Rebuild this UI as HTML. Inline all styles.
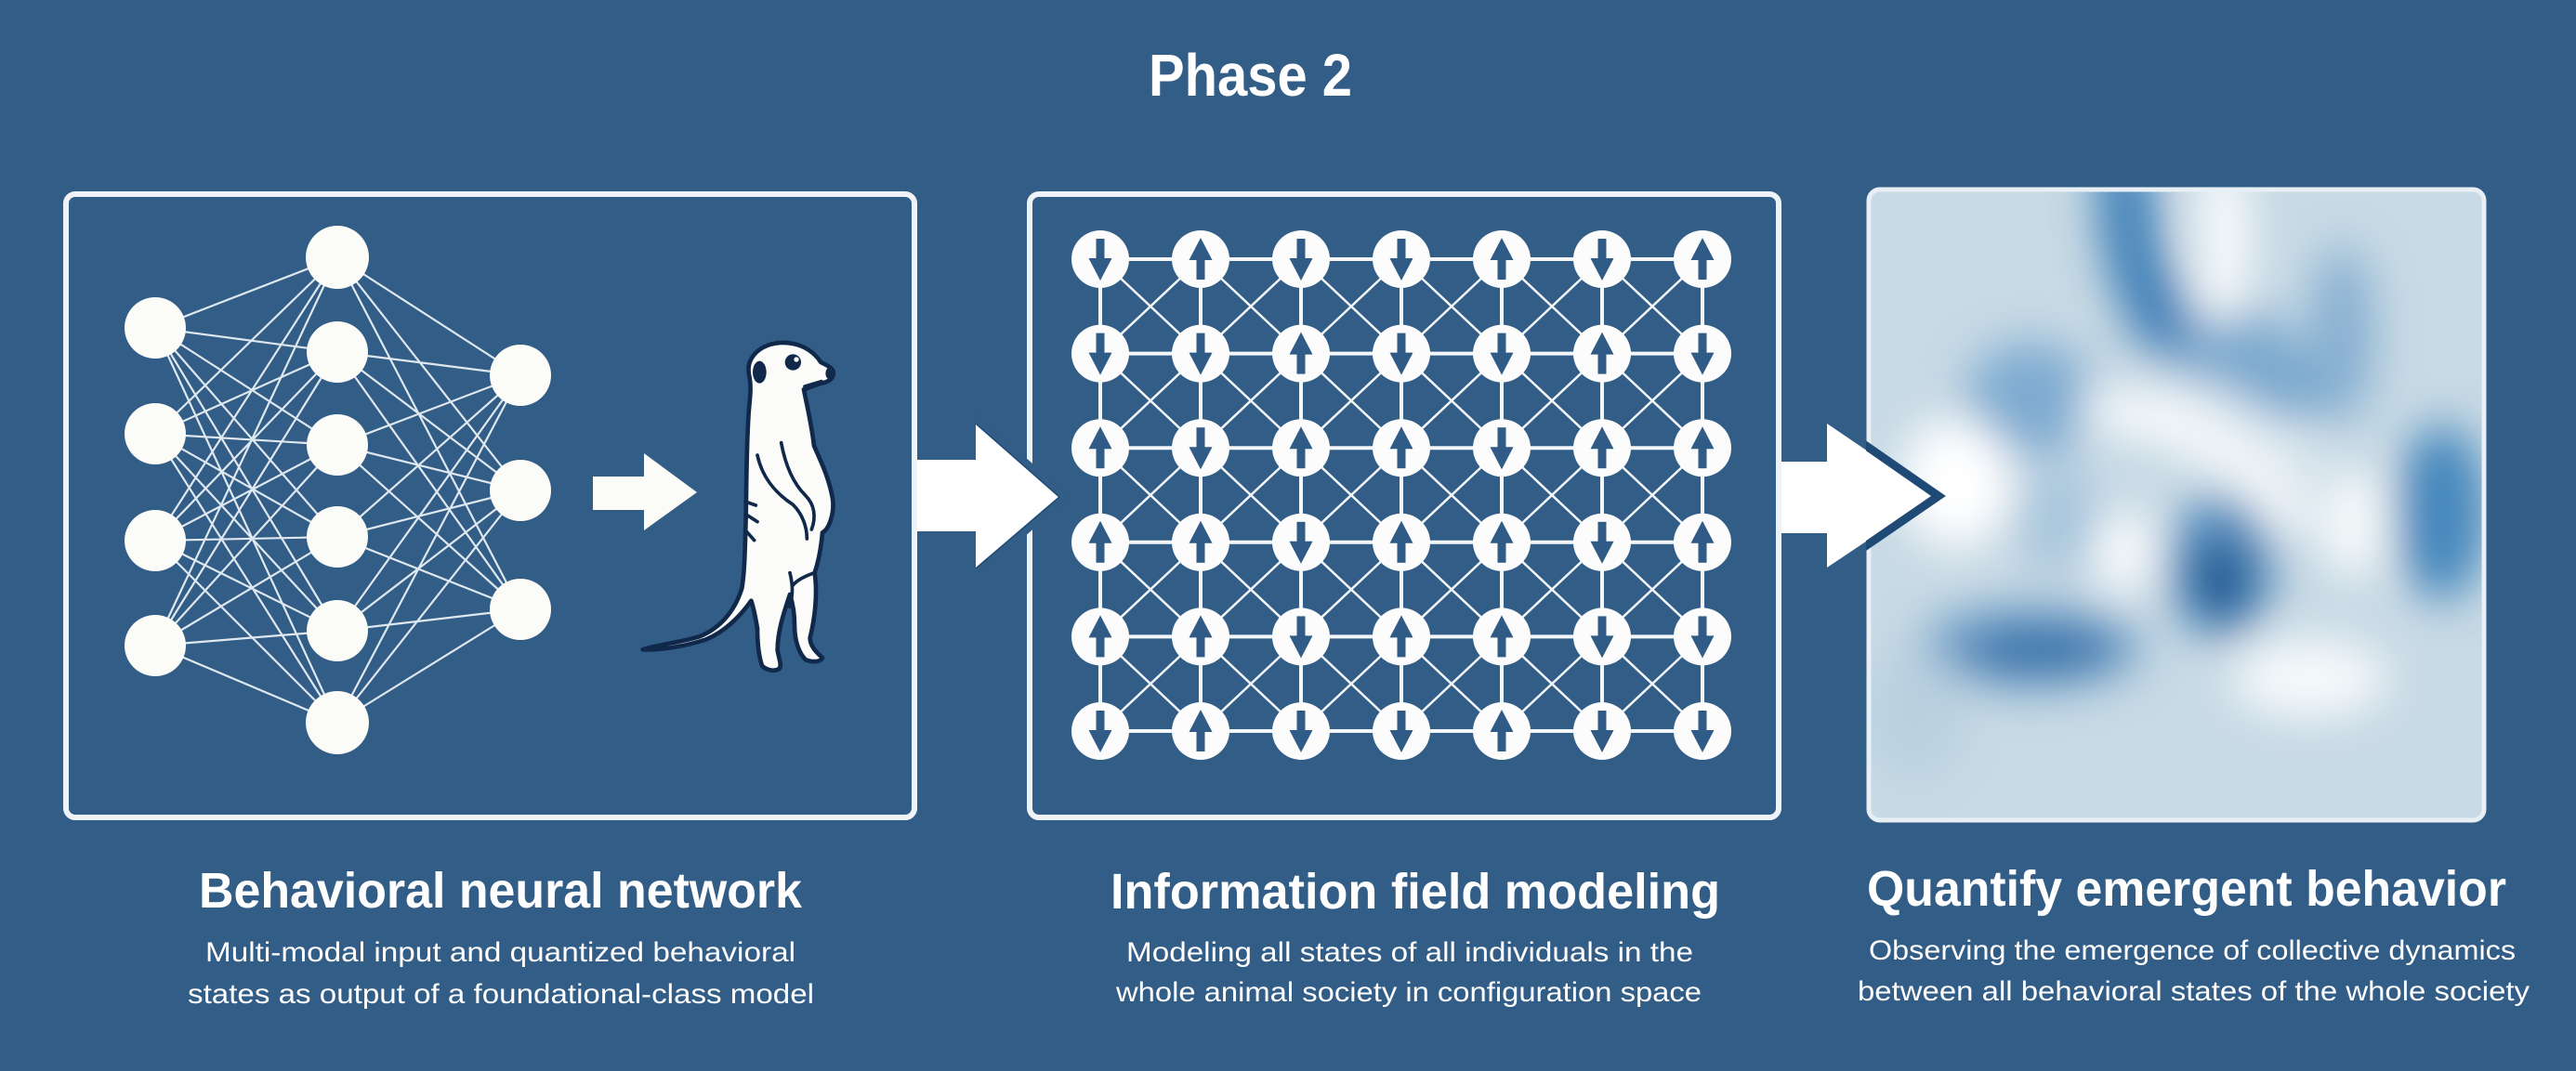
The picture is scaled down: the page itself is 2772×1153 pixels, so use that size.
<!DOCTYPE html>
<html>
<head>
<meta charset="utf-8">
<style>
html,body{margin:0;padding:0;background:#325d87;}
svg{display:block;}
</style>
</head>
<body>
<svg width="2772" height="1153" viewBox="0 0 2772 1153" xmlns="http://www.w3.org/2000/svg" xmlns:xlink="http://www.w3.org/1999/xlink">
<defs>
  <g id="U"><circle r="31" fill="#fbfcfb"/><rect x="-4.5" y="-2" width="9" height="24" fill="#2f5b86"/><polygon points="0,-23 -12.5,1 12.5,1" fill="#2f5b86"/></g>
  <g id="D"><circle r="31" fill="#fbfcfb"/><rect x="-4.5" y="-22" width="9" height="24" fill="#2f5b86"/><polygon points="0,23 -12.5,-1 12.5,-1" fill="#2f5b86"/></g>
  <clipPath id="fieldclip"><rect x="2011" y="204" width="662" height="679" rx="12"/></clipPath>
  <clipPath id="p3area"><rect x="2008" y="150" width="700" height="800"/></clipPath>
  <filter id="blur" filterUnits="userSpaceOnUse" x="1950" y="150" width="800" height="800">
    <feGaussianBlur stdDeviation="24"/>
  </filter>
</defs>

<rect x="0" y="0" width="2772" height="1153" fill="#325d87"/>

<!-- Title -->
<text x="1236" y="103" font-family="Liberation Sans, sans-serif" font-size="64" font-weight="700" fill="#ffffff" textLength="219" lengthAdjust="spacingAndGlyphs">Phase 2</text>

<!-- Panel 3: field image -->
<g clip-path="url(#fieldclip)">
  <rect x="2011" y="204" width="662" height="679" fill="#c8dae5"/>
  <g filter="url(#blur)" stroke-linecap="round" fill="none">
    <ellipse cx="2185" cy="430" rx="70" ry="62" fill="#7eaad0"/>
    <ellipse cx="2215" cy="560" rx="45" ry="55" fill="#a7c5dc"/>
    <ellipse cx="2395" cy="380" rx="120" ry="55" fill="#7aa8cd" transform="rotate(28 2395 380)"/>
    <path d="M2286,195 C2290,260 2298,310 2330,345" stroke="#3a7db5" stroke-width="60"/>
    <ellipse cx="2520" cy="360" rx="35" ry="95" fill="#86afd0"/>
    <path d="M2392,200 C2396,255 2396,295 2386,325" stroke="#ffffff" stroke-width="46"/>
    <ellipse cx="2390" cy="610" rx="58" ry="78" fill="#5a91c0"/>
    <ellipse cx="2390" cy="625" rx="32" ry="44" fill="#145590"/>
    <ellipse cx="2628" cy="552" rx="48" ry="95" fill="#4486bb"/>
    <ellipse cx="2185" cy="697" rx="120" ry="46" fill="#6e9fc7"/>
    <ellipse cx="2195" cy="700" rx="80" ry="22" fill="#2768a3"/>
    <path d="M2262,440 C2340,450 2420,490 2465,555" stroke="#ffffff" stroke-width="40"/>
    <path d="M2322,414 C2382,419 2442,455 2485,500" stroke="#f7fafc" stroke-width="18"/>
    <ellipse cx="2105" cy="520" rx="60" ry="70" fill="#ffffff"/>
    <ellipse cx="2287" cy="595" rx="30" ry="45" fill="#ffffff"/>
    <ellipse cx="2533" cy="563" rx="32" ry="60" fill="#fbfdfd"/>
    <ellipse cx="2485" cy="730" rx="85" ry="42" fill="#f6f9fb"/>
    <ellipse cx="2060" cy="770" rx="55" ry="70" fill="#b9d0df"/>
  </g>
</g>
<rect x="2011" y="204" width="662" height="679" rx="12" fill="none" stroke="#e8f0f5" stroke-width="5"/>

<!-- Arrow 2 -->
<polygon points="1912,497 1966,497 1966,456 2081,534 1966,611 1966,574 1912,574" fill="#ffffff"/>
<polyline clip-path="url(#p3area)" points="1968,452 2086,534 1968,615" fill="none" stroke="#1f4a76" stroke-width="9" stroke-linejoin="miter"/>

<!-- Panel 2: grid -->
<g stroke="#f4f7f9" fill="none" stroke-linecap="round">
  <path stroke-width="2.5" d="M1184 279L1724 787M1292 279L1832 787M1400 279L1832 685.4M1508 279L1832 583.8M1616 279L1832 482.2M1724 279L1832 380.6M1184 380.6L1616 787M1184 482.2L1508 787M1184 583.8L1400 787M1184 685.4L1292 787
  M1832 279L1292 787M1724 279L1184 787M1616 279L1184 685.4M1508 279L1184 583.8M1400 279L1184 482.2M1292 279L1184 380.6M1832 380.6L1400 787M1832 482.2L1508 787M1832 583.8L1616 787M1832 685.4L1724 787"/>
  <path stroke-width="4" d="M1184 279H1832M1184 380.6H1832M1184 482.2H1832M1184 583.8H1832M1184 685.4H1832M1184 787H1832
  M1184 279V787M1292 279V787M1400 279V787M1508 279V787M1616 279V787M1724 279V787M1832 279V787"/>
</g>
<!-- row 1 -->
<use href="#D" xlink:href="#D" x="1184" y="279"/>
<use href="#U" xlink:href="#U" x="1292" y="279"/>
<use href="#D" xlink:href="#D" x="1400" y="279"/>
<use href="#D" xlink:href="#D" x="1508" y="279"/>
<use href="#U" xlink:href="#U" x="1616" y="279"/>
<use href="#D" xlink:href="#D" x="1724" y="279"/>
<use href="#U" xlink:href="#U" x="1832" y="279"/>
<!-- row 2 -->
<use href="#D" xlink:href="#D" x="1184" y="380.6"/>
<use href="#D" xlink:href="#D" x="1292" y="380.6"/>
<use href="#U" xlink:href="#U" x="1400" y="380.6"/>
<use href="#D" xlink:href="#D" x="1508" y="380.6"/>
<use href="#D" xlink:href="#D" x="1616" y="380.6"/>
<use href="#U" xlink:href="#U" x="1724" y="380.6"/>
<use href="#D" xlink:href="#D" x="1832" y="380.6"/>
<!-- row 3 -->
<use href="#U" xlink:href="#U" x="1184" y="482.2"/>
<use href="#D" xlink:href="#D" x="1292" y="482.2"/>
<use href="#U" xlink:href="#U" x="1400" y="482.2"/>
<use href="#U" xlink:href="#U" x="1508" y="482.2"/>
<use href="#D" xlink:href="#D" x="1616" y="482.2"/>
<use href="#U" xlink:href="#U" x="1724" y="482.2"/>
<use href="#U" xlink:href="#U" x="1832" y="482.2"/>
<!-- row 4 -->
<use href="#U" xlink:href="#U" x="1184" y="583.8"/>
<use href="#U" xlink:href="#U" x="1292" y="583.8"/>
<use href="#D" xlink:href="#D" x="1400" y="583.8"/>
<use href="#U" xlink:href="#U" x="1508" y="583.8"/>
<use href="#U" xlink:href="#U" x="1616" y="583.8"/>
<use href="#D" xlink:href="#D" x="1724" y="583.8"/>
<use href="#U" xlink:href="#U" x="1832" y="583.8"/>
<!-- row 5 -->
<use href="#U" xlink:href="#U" x="1184" y="685.4"/>
<use href="#U" xlink:href="#U" x="1292" y="685.4"/>
<use href="#D" xlink:href="#D" x="1400" y="685.4"/>
<use href="#U" xlink:href="#U" x="1508" y="685.4"/>
<use href="#U" xlink:href="#U" x="1616" y="685.4"/>
<use href="#D" xlink:href="#D" x="1724" y="685.4"/>
<use href="#D" xlink:href="#D" x="1832" y="685.4"/>
<!-- row 6 -->
<use href="#D" xlink:href="#D" x="1184" y="787"/>
<use href="#U" xlink:href="#U" x="1292" y="787"/>
<use href="#D" xlink:href="#D" x="1400" y="787"/>
<use href="#D" xlink:href="#D" x="1508" y="787"/>
<use href="#U" xlink:href="#U" x="1616" y="787"/>
<use href="#D" xlink:href="#D" x="1724" y="787"/>
<use href="#D" xlink:href="#D" x="1832" y="787"/>

<rect x="1108" y="209" width="806" height="671" rx="10" fill="none" stroke="#eef3f7" stroke-width="6"/>

<!-- Arrow 1 (gap in panel 2 border via bg stroke) -->
<polygon points="987,495 1050,495 1050,456 1140,535 1050,612 1050,572 987,572" fill="#ffffff" stroke="#325d87" stroke-width="16" stroke-linejoin="miter" paint-order="stroke"/>
<polyline points="1050,456 1140,535 1050,612" fill="none" stroke="#1f4a76" stroke-width="1.5"/>

<!-- Panel 1: neural network -->
<path fill="none" stroke="#eef3f7" stroke-width="2.2" stroke-opacity="0.92" d="
M167 353L363 277M167 353L363 379M167 353L363 479M167 353L363 578M167 353L363 679M167 353L363 778
M167 467L363 277M167 467L363 379M167 467L363 479M167 467L363 578M167 467L363 679M167 467L363 778
M167 582L363 277M167 582L363 379M167 582L363 479M167 582L363 578M167 582L363 679M167 582L363 778
M167 695L363 277M167 695L363 379M167 695L363 479M167 695L363 578M167 695L363 679M167 695L363 778
M363 277L560 404M363 277L560 528M363 277L560 656
M363 379L560 404M363 379L560 528M363 379L560 656
M363 479L560 404M363 479L560 528M363 479L560 656
M363 578L560 404M363 578L560 528M363 578L560 656
M363 679L560 404M363 679L560 528M363 679L560 656
M363 778L560 404M363 778L560 528M363 778L560 656"/>
<g fill="#fbfbf8">
  <circle cx="167" cy="353" r="33"/><circle cx="167" cy="467" r="33"/><circle cx="167" cy="582" r="33"/><circle cx="167" cy="695" r="33"/>
  <circle cx="363" cy="277" r="34"/><circle cx="363" cy="379" r="33"/><circle cx="363" cy="479" r="33"/><circle cx="363" cy="578" r="33"/><circle cx="363" cy="679" r="33"/><circle cx="363" cy="778" r="34"/>
  <circle cx="560" cy="404" r="33"/><circle cx="560" cy="528" r="33"/><circle cx="560" cy="656" r="33"/>
</g>

<!-- small arrow -->
<polygon points="638,513 693,513 693,488 750,530 693,571 693,549 638,549" fill="#fbfbf8"/>

<!-- meerkat -->
<g transform="translate(620,340) scale(0.33333)">
  <path fill="#fbfbf9" stroke="#10294a" stroke-width="14" stroke-linejoin="round" d="
  M 560,150
  C 580,100 640,78 700,90
  C 740,98 770,120 790,150
  C 810,160 835,170 830,190
  C 828,205 810,215 790,218
  C 770,225 750,232 735,238
  C 745,290 760,350 768,420
  C 790,470 815,520 828,590
  C 835,640 815,690 795,700
  C 790,760 780,800 770,830
  C 780,900 770,980 755,1040
  C 755,1070 780,1090 795,1105
  C 790,1118 760,1120 740,1110
  C 720,1090 705,1050 705,1000
  C 705,960 700,930 690,900
  C 670,960 650,1020 650,1080
  C 655,1110 665,1130 655,1140
  C 640,1150 615,1145 600,1130
  C 590,1100 585,1060 585,1010
  C 580,980 575,950 565,920
  C 530,970 480,1020 420,1045
  C 360,1065 280,1080 215,1078
  C 260,1062 340,1055 400,1035
  C 460,1010 510,960 535,880
  C 545,820 545,740 548,650
  C 550,520 550,400 558,300
  C 562,260 565,230 560,200
  C 555,180 555,165 560,150 Z"/>
  <ellipse cx="592" cy="182" rx="22" ry="36" fill="#10294a"/>
  <circle cx="700" cy="150" r="26" fill="#10294a"/>
  <circle cx="711" cy="141" r="8" fill="#ffffff"/>
  <ellipse cx="818" cy="186" rx="13" ry="19" fill="#10294a"/>
  <g fill="none" stroke="#10294a" stroke-width="11" stroke-linecap="round">
    <path d="M 738,228 L 792,212"/>
    <path d="M 585,450 C 600,520 640,570 700,610 C 730,640 745,680 745,720"/>
    <path d="M 662,410 C 675,480 700,540 740,580 C 770,610 775,650 760,690"/>
    <path d="M 546,600 L 580,612"/>
    <path d="M 546,640 L 585,665"/>
    <path d="M 544,690 L 575,725"/>
    <path d="M 690,830 C 700,870 700,900 690,940"/>
    <path d="M 770,830 C 740,840 715,852 700,870"/>
  </g>
</g>

<rect x="71" y="209" width="913" height="671" rx="10" fill="none" stroke="#eef3f7" stroke-width="6"/>

<!-- Labels -->
<g font-family="Liberation Sans, sans-serif" fill="#ffffff">
  <text x="214" y="977" font-size="54" font-weight="700" textLength="649" lengthAdjust="spacingAndGlyphs">Behavioral neural network</text>
  <text x="1195" y="978" font-size="54" font-weight="700" textLength="656" lengthAdjust="spacingAndGlyphs">Information field modeling</text>
  <text x="2009" y="975" font-size="54" font-weight="700" textLength="688" lengthAdjust="spacingAndGlyphs">Quantify emergent behavior</text>

  <text x="221" y="1035" font-size="30" textLength="635" lengthAdjust="spacingAndGlyphs">Multi-modal input and quantized behavioral</text>
  <text x="202" y="1080" font-size="30" textLength="674" lengthAdjust="spacingAndGlyphs">states as output of a foundational-class model</text>

  <text x="1212" y="1035" font-size="30" textLength="610" lengthAdjust="spacingAndGlyphs">Modeling all states of all individuals in the</text>
  <text x="1201" y="1078" font-size="30" textLength="630" lengthAdjust="spacingAndGlyphs">whole animal society in configuration space</text>

  <text x="2011" y="1033" font-size="30" textLength="696" lengthAdjust="spacingAndGlyphs">Observing the emergence of collective dynamics</text>
  <text x="1999" y="1077" font-size="30" textLength="723" lengthAdjust="spacingAndGlyphs">between all behavioral states of the whole society</text>
</g>
</svg>
</body>
</html>
